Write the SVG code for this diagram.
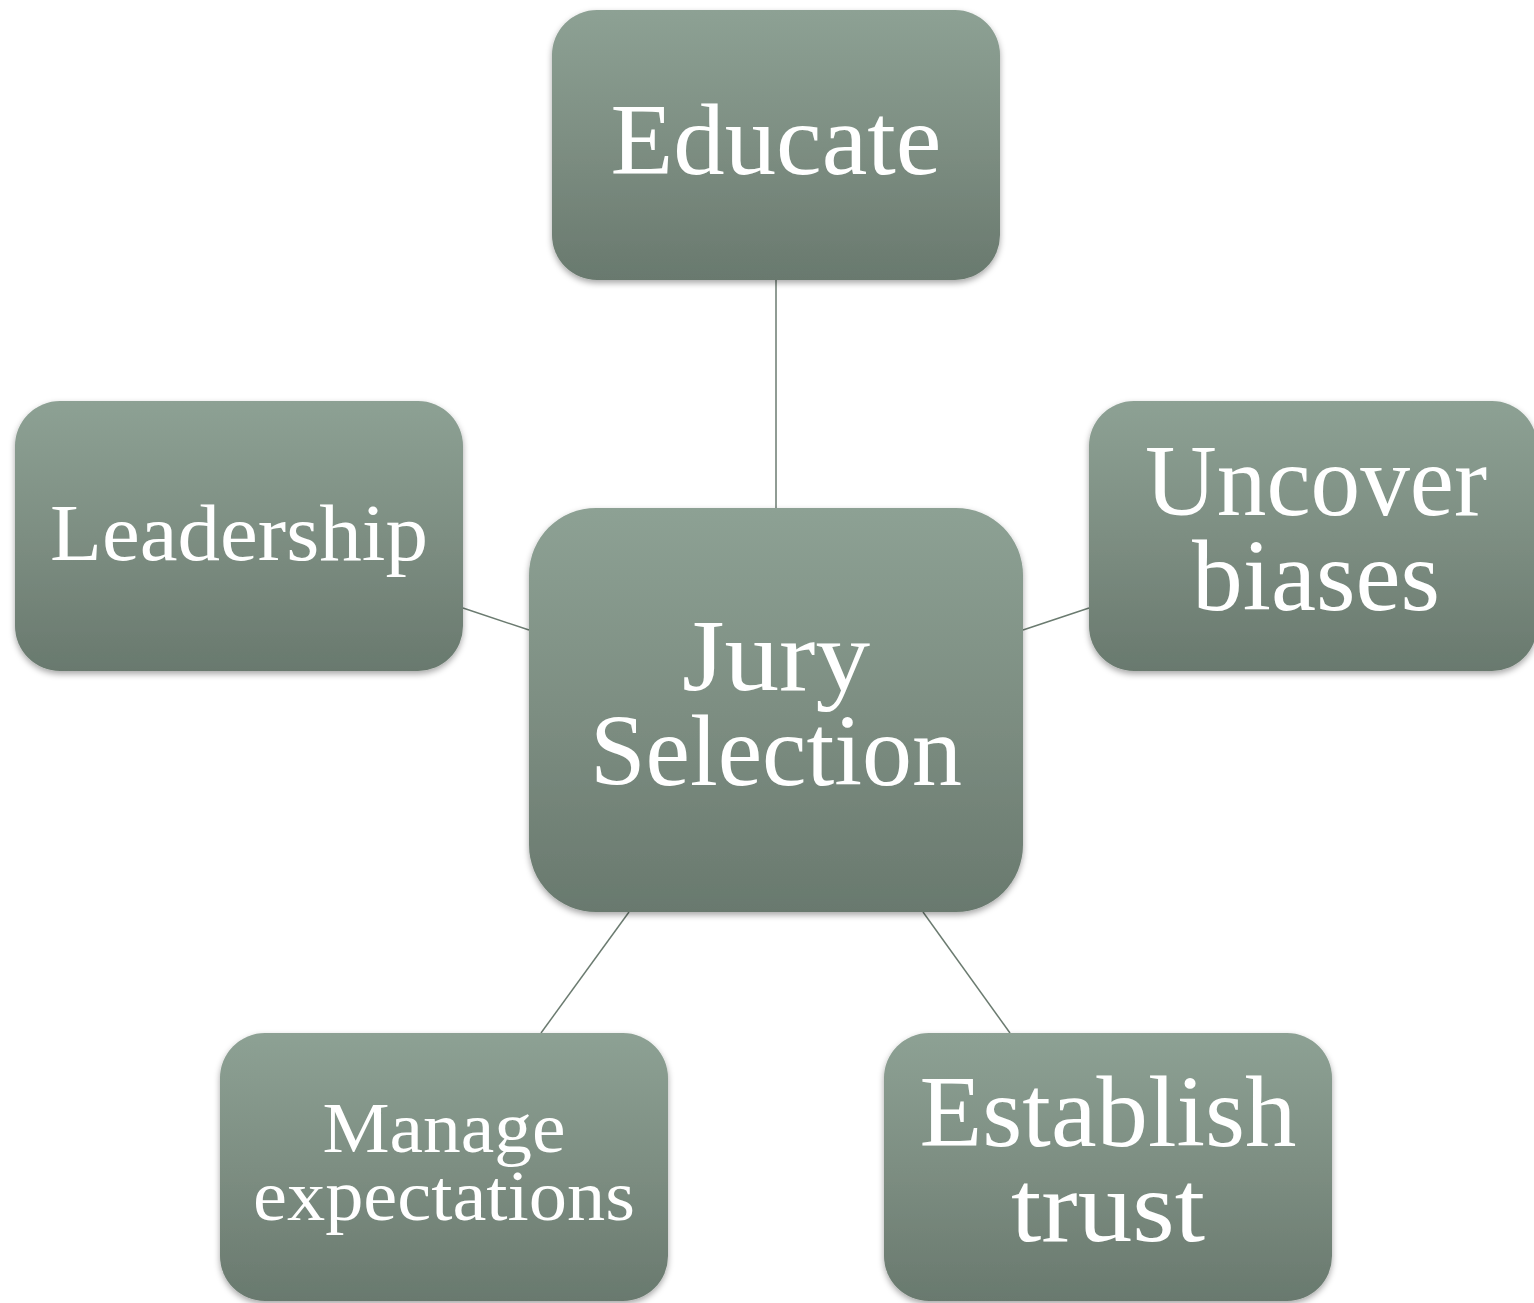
<svg xmlns="http://www.w3.org/2000/svg" width="1534" height="1303" viewBox="0 0 1534 1303">
  <defs>
    <linearGradient id="boxFill" x1="0" y1="0" x2="0" y2="1">
      <stop offset="0" stop-color="#8da194"/>
      <stop offset="0.5" stop-color="#7d8e82"/>
      <stop offset="1" stop-color="#69796e"/>
    </linearGradient>
    <filter id="shadow" x="-10%" y="-10%" width="120%" height="125%">
      <feDropShadow dx="0" dy="3" stdDeviation="3" flood-color="#000" flood-opacity="0.35"/>
    </filter>
  </defs>
  <style>
    .box { fill: url(#boxFill); filter: url(#shadow); }
    .lbl { font-family: "Liberation Serif", "Times New Roman", serif; fill: #ffffff; text-anchor: middle; }
    .big { font-size: 101px; }
    .mid { font-size: 81px; }
    .small { font-size: 72px; }
    .link { stroke: #6b7b70; stroke-width: 1.5; fill: none; }
  </style>
  <rect width="1534" height="1303" fill="#ffffff"/>

  <!-- connectors from the hub to each satellite -->
  <g id="connectors">
    <line class="link" x1="776" y1="280" x2="776" y2="508"/>
    <line class="link" x1="463" y1="608" x2="529" y2="630"/>
    <line class="link" x1="1023" y1="630" x2="1089" y2="608"/>
    <line class="link" x1="541" y1="1033" x2="629" y2="912"/>
    <line class="link" x1="923" y1="912" x2="1010" y2="1033"/>
  </g>

  <g id="node-educate">
    <rect class="box" x="552" y="10" width="448" height="270" rx="45" ry="45"/>
    <text class="lbl big" x="776" y="174" textLength="331" lengthAdjust="spacingAndGlyphs">Educate</text>
  </g>

  <g id="node-leadership">
    <rect class="box" x="15" y="401" width="448" height="270" rx="45" ry="45"/>
    <text class="lbl mid" x="239" y="560" textLength="378" lengthAdjust="spacingAndGlyphs">Leadership</text>
  </g>

  <g id="node-uncover">
    <rect class="box" x="1089" y="401" width="448" height="270" rx="45" ry="45"/>
    <text class="lbl big" x="1316" y="515" textLength="342" lengthAdjust="spacingAndGlyphs">Uncover</text>
    <text class="lbl big" x="1316" y="610" textLength="248" lengthAdjust="spacingAndGlyphs">biases</text>
  </g>

  <g id="node-jury">
    <rect class="box" x="529" y="508" width="494" height="404" rx="67" ry="67"/>
    <text class="lbl big" x="776" y="690" textLength="188" lengthAdjust="spacingAndGlyphs">Jury</text>
    <text class="lbl big" x="776" y="785" textLength="372" lengthAdjust="spacingAndGlyphs">Selection</text>
  </g>

  <g id="node-manage">
    <rect class="box" x="220" y="1033" width="448" height="268" rx="45" ry="45"/>
    <text class="lbl small" x="444" y="1152" textLength="243" lengthAdjust="spacingAndGlyphs">Manage</text>
    <text class="lbl small" x="444" y="1220" textLength="382" lengthAdjust="spacingAndGlyphs">expectations</text>
  </g>

  <g id="node-establish">
    <rect class="box" x="884" y="1033" width="448" height="268" rx="45" ry="45"/>
    <text class="lbl big" x="1108" y="1146" textLength="377" lengthAdjust="spacingAndGlyphs">Establish</text>
    <text class="lbl big" x="1108" y="1241" textLength="194" lengthAdjust="spacingAndGlyphs">trust</text>
  </g>
</svg>
